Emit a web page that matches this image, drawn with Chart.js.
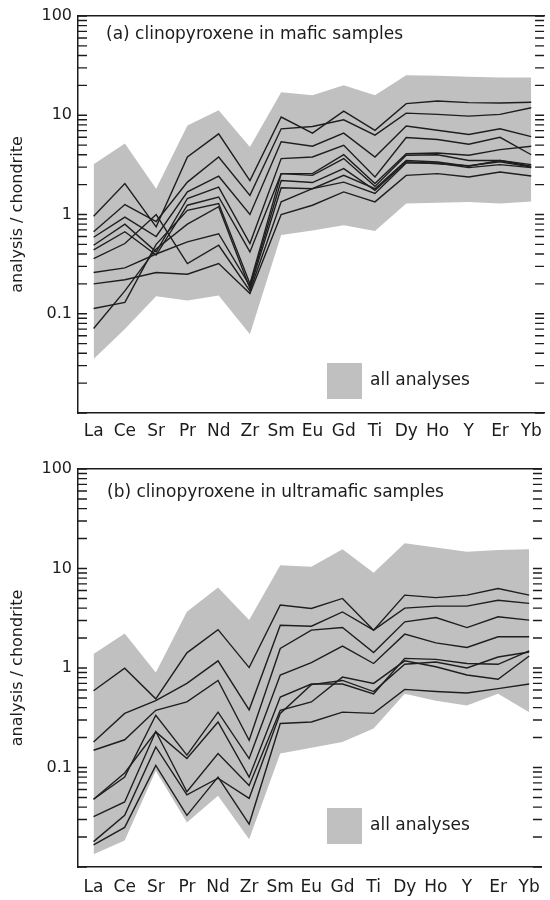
<!DOCTYPE html>
<html><head><meta charset="utf-8">
<script src="https://cdn.jsdelivr.net/npm/chart.js@4/dist/chart.umd.min.js"></script>
<style>
html,body{margin:0;padding:0;background:#fff;overflow:hidden;width:550px;height:900px;}
canvas{position:absolute;left:0;display:block;}
#ca{top:0}
#cb{top:450px}
</style></head><body>
<canvas id="ca" width="550" height="450"></canvas>
<canvas id="cb" width="550" height="450"></canvas>
<script>
// ---------- data ----------
const elements = ['La','Ce','Sr','Pr','Nd','Zr','Sm','Eu','Gd','Ti','Dy','Ho','Y','Er','Yb'];
const yTickLabels = [0.1, 1, 10, 100];
const yMin = 0.01, yMax = 100;

// (a) clinopyroxene in mafic samples
const maficMax = [3.2, 5.2, 1.82, 7.9, 11.2, 4.8, 17.1, 15.9, 20, 15.9, 25.3, 25, 24.5, 24, 24];
const maficMin = [0.035, 0.07, 0.15, 0.136, 0.153, 0.062, 0.62, 0.69, 0.78, 0.68, 1.29, 1.31, 1.34, 1.29, 1.35];
const mafic1  = [0.96, 2.05, 0.75, 3.8, 6.5, 2.2, 9.6, 6.6, 11, 7.05, 13.1, 13.9, 13.4, 13.3, 13.5];
const mafic2  = [0.67, 1.26, 0.85, 2.12, 3.8, 1.56, 7.3, 7.7, 9.0, 6.3, 10.5, 10.2, 9.8, 10.2, 11.9];
const mafic3  = [0.59, 0.94, 0.6, 1.69, 2.43, 1.0, 5.4, 4.87, 6.6, 3.8, 7.8, 7.05, 6.4, 7.3, 6.1];
const mafic4  = [0.49, 0.8, 0.42, 1.45, 1.89, 0.51, 3.66, 3.8, 4.98, 2.39, 5.96, 5.7, 5.1, 6.0, 4.0];
const mafic5  = [0.44, 0.67, 0.39, 1.24, 1.5, 0.42, 2.58, 2.58, 4.0, 2.05, 4.1, 4.17, 3.95, 4.5, 4.87];
const mafic6  = [0.113, 0.13, 0.5, 1.1, 1.29, 0.2, 2.58, 2.48, 3.66, 1.92, 3.95, 4.0, 3.5, 3.5, 3.18];
const mafic7  = [0.071, 0.17, 0.45, 0.8, 1.2, 0.18, 1.86, 1.82, 2.48, 1.82, 3.5, 3.38, 3.06, 3.5, 3.06];
const mafic8  = [0.36, 0.51, 1.0, 0.32, 0.49, 0.17, 1.34, 1.82, 2.12, 1.63, 3.3, 3.3, 2.97, 3.18, 2.97];
const mafic9  = [0.20, 0.22, 0.26, 0.25, 0.32, 0.16, 1.0, 1.24, 1.69, 1.34, 2.48, 2.58, 2.39, 2.68, 2.44];
const mafic10 = [0.26, 0.29, 0.4, 0.53, 0.64, 0.19, 2.2, 2.1, 2.9, 1.75, 3.4, 3.25, 3.1, 3.4, 3.0];

// (b) clinopyroxene in ultramafic samples
const ultraMax = [1.38, 2.22, 0.9, 3.67, 6.45, 3.03, 10.8, 10.4, 15.6, 9.06, 17.9, 16.3, 14.7, 15.3, 15.6];
const ultraMin = [0.0134, 0.0185, 0.093, 0.028, 0.052, 0.019, 0.138, 0.158, 0.18, 0.246, 0.55, 0.47, 0.42, 0.55, 0.36];
const ultra1 = [0.59, 0.995, 0.49, 1.42, 2.43, 1.01, 4.3, 3.96, 5.0, 2.4, 5.4, 5.1, 5.4, 6.3, 5.4];
const ultra2 = [0.18, 0.35, 0.47, 0.70, 1.18, 0.38, 2.69, 2.63, 3.66, 2.4, 4.0, 4.19, 4.19, 4.8, 4.46];
const ultra3 = [0.149, 0.19, 0.376, 0.457, 0.75, 0.188, 1.57, 2.4, 2.55, 1.43, 2.91, 3.22, 2.55, 3.27, 3.03];
const ultra4 = [0.048, 0.080, 0.335, 0.133, 0.36, 0.123, 0.85, 1.13, 1.66, 1.11, 2.19, 1.79, 1.61, 2.06, 2.06];
const ultra5 = [0.048, 0.088, 0.228, 0.123, 0.287, 0.08, 0.51, 0.69, 0.69, 0.55, 1.25, 1.22, 1.11, 1.09, 1.49];
const ultra6 = [0.032, 0.045, 0.23, 0.057, 0.138, 0.066, 0.376, 0.456, 0.81, 0.70, 1.18, 1.03, 0.85, 0.77, 1.32];
const ultra7 = [0.018, 0.033, 0.161, 0.053, 0.078, 0.049, 0.35, 0.68, 0.75, 0.58, 1.09, 1.15, 1.0, 1.29, 1.45];
const ultra8 = [0.0167, 0.025, 0.105, 0.033, 0.080, 0.027, 0.277, 0.287, 0.36, 0.35, 0.61, 0.58, 0.56, 0.62, 0.69];

// ---------- style ----------
const ink = '#1c1c1c';
const envColor = '#c0c0c0';
const FONT = "'DejaVu Sans', 'Liberation Sans', sans-serif";
Chart.defaults.font.family = FONT;
Chart.defaults.color = ink;

const pts = arr => arr.map((v, i) => ({x: i, y: v}));

const inwardTicks = {
  id: 'inwardTicks',
  afterDraw(chart) {
    const {ctx, chartArea: a, scales: {y}} = chart;
    const len = 9;
    const vals = [];
    for (let e = -2; e <= 1; e++) for (let m = 1; m <= 9; m++) vals.push(m * Math.pow(10, e));
    vals.push(100);
    ctx.save();
    ctx.strokeStyle = ink;
    ctx.lineWidth = 1.4;
    ctx.beginPath();
    vals.forEach(v => {
      const py = y.getPixelForValue(v);
      ctx.moveTo(a.left, py); ctx.lineTo(a.left + len, py);
      ctx.moveTo(a.right, py); ctx.lineTo(a.right - len, py);
    });
    ctx.stroke();
    ctx.restore();
  }
};

const panelText = {
  id: 'panelText',
  afterDraw(chart, args, o) {
    const {ctx} = chart;
    ctx.save();
    ctx.fillStyle = ink;
    ctx.font = '17px ' + FONT;
    ctx.textBaseline = 'middle';
    ctx.textAlign = 'left';
    ctx.fillText(o.title, o.titleX, o.titleY);
    const env = chart.data.datasets.find(d => d.legendItem);
    ctx.fillStyle = env.backgroundColor;
    ctx.fillRect(o.boxX, o.boxY, o.boxW, o.boxH);
    ctx.fillStyle = ink;
    ctx.fillText(env.label, o.boxX + o.boxW + 8, o.boxY + o.boxH / 2);
    ctx.restore();
  }
};

function makeChart(id, samples, maxArr, minArr, p) {
  const lineSets = samples.map((s, i) => ({
    label: 'sample ' + (i + 1),
    data: pts(s),
    borderColor: '#1e1e1e',
    borderWidth: 1.4,
    pointRadius: 0,
    fill: false,
    tension: 0,
    order: 0
  }));
  const envSets = [
    {label: 'all analyses', legendItem: true, data: pts(maxArr), backgroundColor: envColor,
     borderWidth: 0, pointRadius: 0, fill: '+1', order: 5},
    {label: 'all analyses (min)', data: pts(minArr), backgroundColor: envColor,
     borderWidth: 0, pointRadius: 0, fill: false, order: 6}
  ];
  return new Chart(document.getElementById(id), {
    type: 'line',
    data: {datasets: lineSets.concat(envSets)},
    options: {
      responsive: false,
      animation: false,
      devicePixelRatio: 1,
      layout: {padding: {top: p.top, left: 0, right: 0, bottom: 0}},
      plugins: {
        legend: {display: false},
        tooltip: {enabled: false},
        panelText: p.text
      },
      scales: {
        x: {
          type: 'linear', min: -0.5, max: 14.41,
          afterFit(s) { s.height = p.bottomH; },
          afterBuildTicks(s) { s.ticks = elements.map((_, i) => ({value: i})); },
          ticks: {autoSkip: false, maxRotation: 0, padding: p.xPad,
                  font: {size: 17, family: FONT}, color: ink,
                  callback: v => elements[v]},
          grid: {display: false, drawTicks: false},
          border: {display: true, color: ink, width: 1.5}
        },
        xTop: {
          type: 'linear', position: 'top', min: -0.5, max: 14.41,
          afterFit(s) { s.height = 0; },
          ticks: {display: false},
          grid: {display: false, drawTicks: false},
          border: {display: true, color: ink, width: 1.5}
        },
        y: {
          type: 'logarithmic', min: yMin, max: yMax,
          afterFit(s) { s.width = 78; },
          afterBuildTicks(s) { s.ticks = yTickLabels.map(v => ({value: v})); },
          ticks: {autoSkip: false, padding: 6, font: {size: 16, family: FONT}, color: ink,
                  callback: v => String(v)},
          grid: {display: false, drawTicks: false},
          border: {display: true, color: ink, width: 1.5},
          title: {display: true, text: 'analysis / chondrite', color: ink,
                  font: {size: 16, family: FONT}, padding: {top: 8, bottom: 0}}
        }
      }
    },
    plugins: [inwardTicks, panelText]
  });
}

makeChart('ca',
  [mafic1, mafic2, mafic3, mafic4, mafic5, mafic6, mafic7, mafic8, mafic9, mafic10],
  maficMax, maficMin,
  {top: 16, bottomH: 37, xPad: 8,
   text: {title: '(a) clinopyroxene in mafic samples', titleX: 106, titleY: 35,
          boxX: 327, boxY: 363, boxW: 35, boxH: 36}});

makeChart('cb',
  [ultra1, ultra2, ultra3, ultra4, ultra5, ultra6, ultra7, ultra8],
  ultraMax, ultraMin,
  {top: 19, bottomH: 33, xPad: 10,
   text: {title: '(b) clinopyroxene in ultramafic samples', titleX: 107, titleY: 43,
          boxX: 327, boxY: 358, boxW: 35, boxH: 36}});
</script>
</body></html>
